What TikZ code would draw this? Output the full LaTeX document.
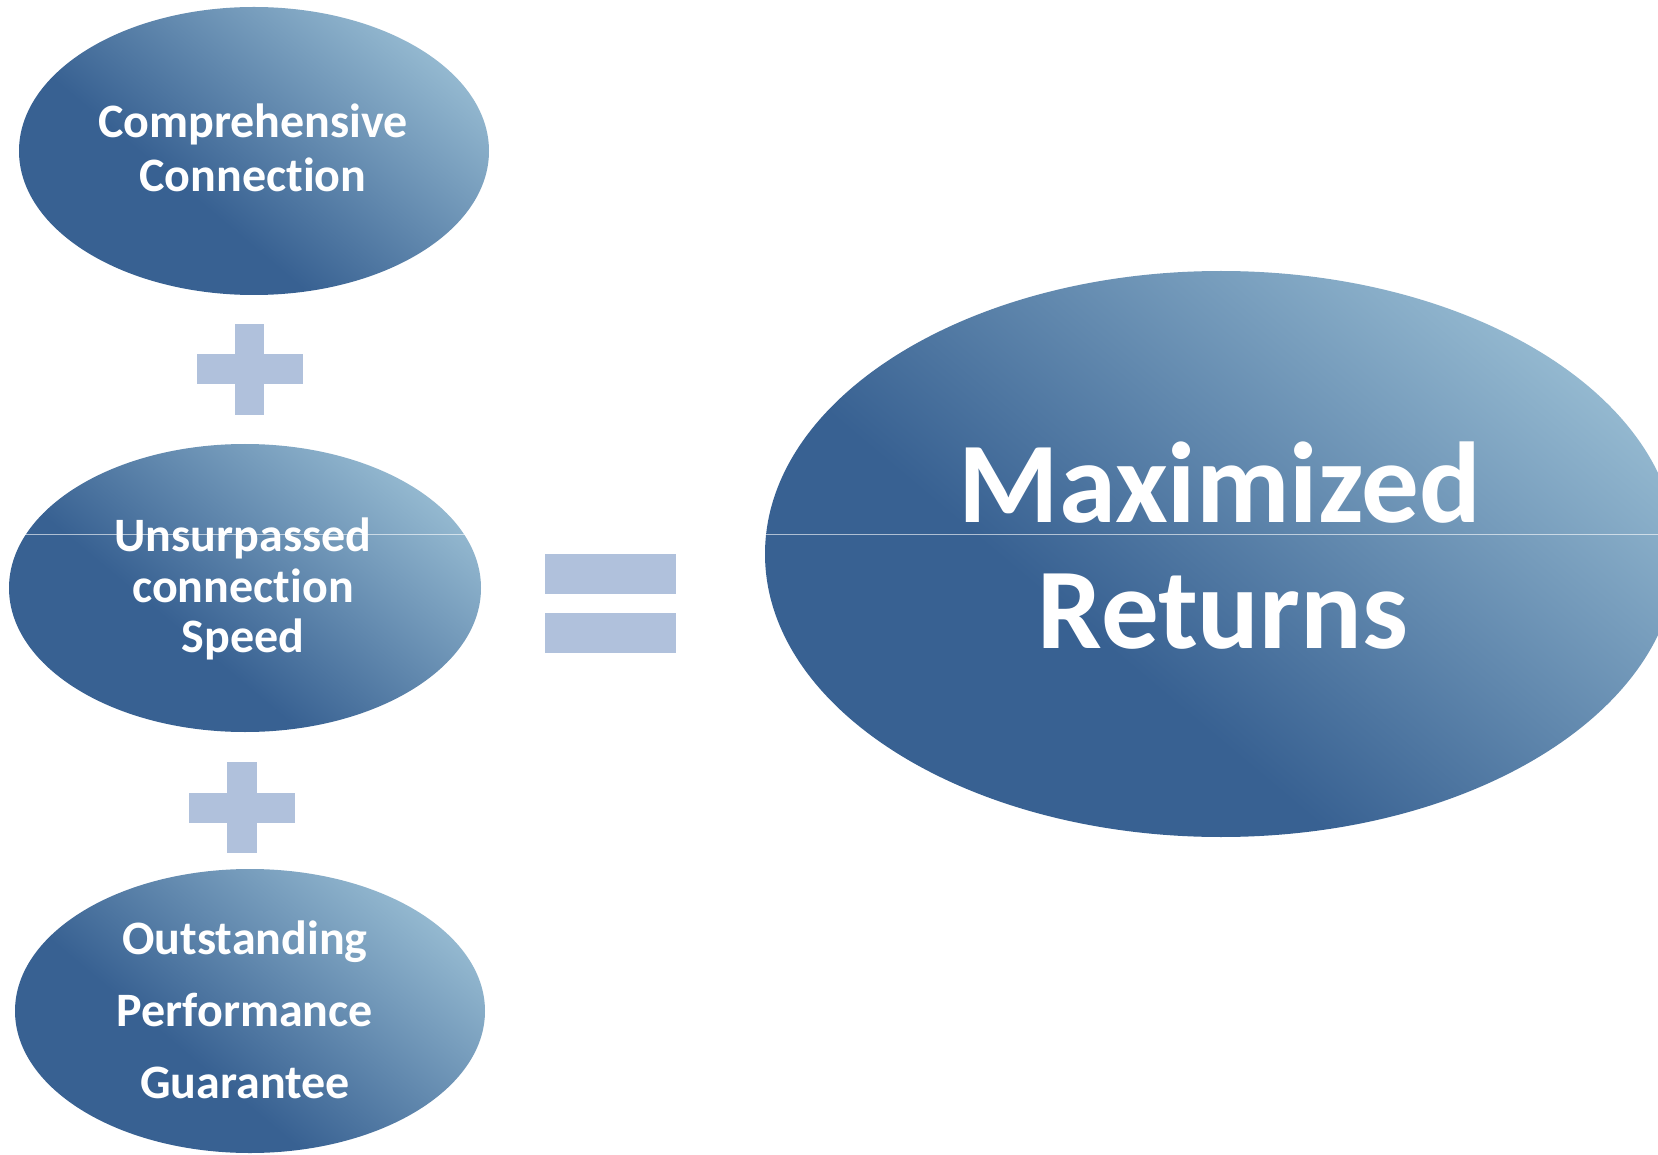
\documentclass[tikz,border=0pt]{standalone}
\usepackage{fontspec}
\setmainfont{Carlito}[Ligatures={NoCommon}]
\usetikzlibrary{shapes.geometric}
\definecolor{darkblue}{HTML}{386192}
\definecolor{lightblue}{HTML}{A0C4D8}
\definecolor{signblue}{HTML}{B0C1DC}
\pgfdeclareverticalshading{orbshade}{100bp}{color(0bp)=(darkblue); color(25bp)=(darkblue); color(40bp)=(darkblue); color(80bp)=(lightblue); color(100bp)=(lightblue)}
\begin{document}
\begin{tikzpicture}[x=1pt,y=-1pt,
  orb/.style={ellipse, inner sep=0pt, draw=none, shading=orbshade, shading angle=-40},
  small/.style={text=white, inner sep=0pt, anchor=base, font=\bfseries\fontsize{48}{52}\selectfont},
  big/.style={text=white, inner sep=0pt, anchor=base, font=\bfseries\fontsize{115}{126}\selectfont},
  sign/.style={fill=signblue, draw=none}]
\useasboundingbox (0,0) rectangle (1658,1155);
\clip (0,0) rectangle (1658,1155);
\fill[white] (0,0) rectangle (1658,1155);
% ellipses
\node[orb, minimum width=470, minimum height=288] (e1) at (254,151) {};
\node[orb, minimum width=472, minimum height=288] (e2) at (245,588) {};
\node[orb, minimum width=470, minimum height=284] (e3) at (250,1011) {};
\node[orb, minimum width=912, minimum height=566] (e4) at (1221,554) {};
% thin line
\draw[white, opacity=0.6, line width=0.8pt] (0,534) -- (1658,534);
% plus signs
\fill[sign] (235,324) rectangle (264,415);
\fill[sign] (197,354) rectangle (303,384);
\fill[sign] (227,762) rectangle (257,853);
\fill[sign] (189,793) rectangle (295,823);
% equals
\fill[sign] (545,554) rectangle (676,594);
\fill[sign] (545,613) rectangle (676,653);
% texts
\node[small] (t1a) at (253,138) {Comprehensive};
\node[small] (t1b) at (253,192) {Connection};
\node[small] (t2a) at (243,551) {Unsurpassed};
\node[small] (t2b) at (243,602) {connection};
\node[small] (t2c) at (243,652) {Speed};
\node[small] (t3a) at (245,954) {Outstanding};
\node[small] (t3b) at (245,1026) {Performance};
\node[small] (t3c) at (245,1098) {Guarantee};
\node[big] (t4a) at (1220,522) {Maximized};
\node[big] (t4b) at (1223,648) {Returns};
\end{tikzpicture}
\end{document}
